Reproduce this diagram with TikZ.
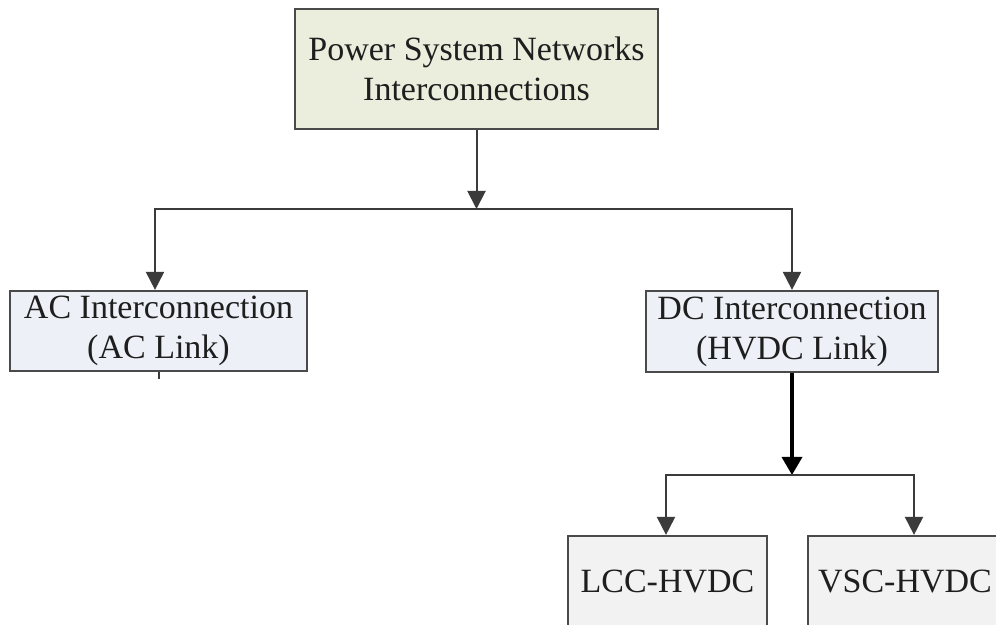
\documentclass[tikz,border=0pt]{standalone}
\usepackage{fontspec}
\setmainfont{Liberation Serif}
\usetikzlibrary{arrows.meta}
\definecolor{topfill}{HTML}{EBEEDC}
\definecolor{linkfill}{HTML}{EDF0F6}
\definecolor{typefill}{HTML}{F2F2F2}
\definecolor{edge}{HTML}{4A4A4A}
\definecolor{ink}{HTML}{1E1E1E}
\tikzset{
  box/.style={draw=edge, line width=2.2pt, rectangle, inner sep=0pt,
    align=center, text=ink, font=\fontsize{34}{40}\selectfont},
  link/.style={draw=edge!80!black, line width=2pt,
    -{Triangle[width=18pt,length=18pt]}},
  plain/.style={draw=edge!80!black, line width=2pt},
  heavy/.style={draw=black, line width=3.5pt,
    -{Triangle[width=20pt,length=18pt]}}
}
\begin{document}
\begin{tikzpicture}[x=1pt,y=1pt]
\clip (0,0) rectangle (996,624);
\fill[white] (0,0) rectangle (996,624);

% boxes
\node[box, fill=topfill, minimum width=363pt, minimum height=120pt]
  (top) at (476.5,555) {Power System Networks\\Interconnections};
\node[box, fill=linkfill, minimum width=297pt, minimum height=80pt]
  (ac) at (158.5,293) {AC Interconnection\\(AC Link)};
\node[box, fill=linkfill, minimum width=292pt, minimum height=81pt]
  (dc) at (792,292.5) {DC Interconnection\\(HVDC Link)};
\node[box, fill=typefill, minimum width=199pt, minimum height=92pt]
  (lcc) at (667.5,42) {LCC-HVDC};
\node[box, fill=typefill, minimum width=194pt, minimum height=92pt]
  (vsc) at (905,42) {VSC-HVDC};

% branch points
\coordinate (split1) at (476.5,415);
\coordinate (split2) at (792,149);

% connectors
\draw[link] (top.south) -- (split1);
\draw[link] (split1) -| ([xshift=-3.5pt]ac.north);
\draw[link] (split1) -| (dc.north);
\draw[plain] (ac.south) -- ++(0,-7);
\draw[heavy] (dc.south) -- (split2);
\draw[link] (split2) -| ([xshift=-1.5pt]lcc.north);
\draw[link] (split2) -| ([xshift=9pt]vsc.north);
\end{tikzpicture}
\end{document}
